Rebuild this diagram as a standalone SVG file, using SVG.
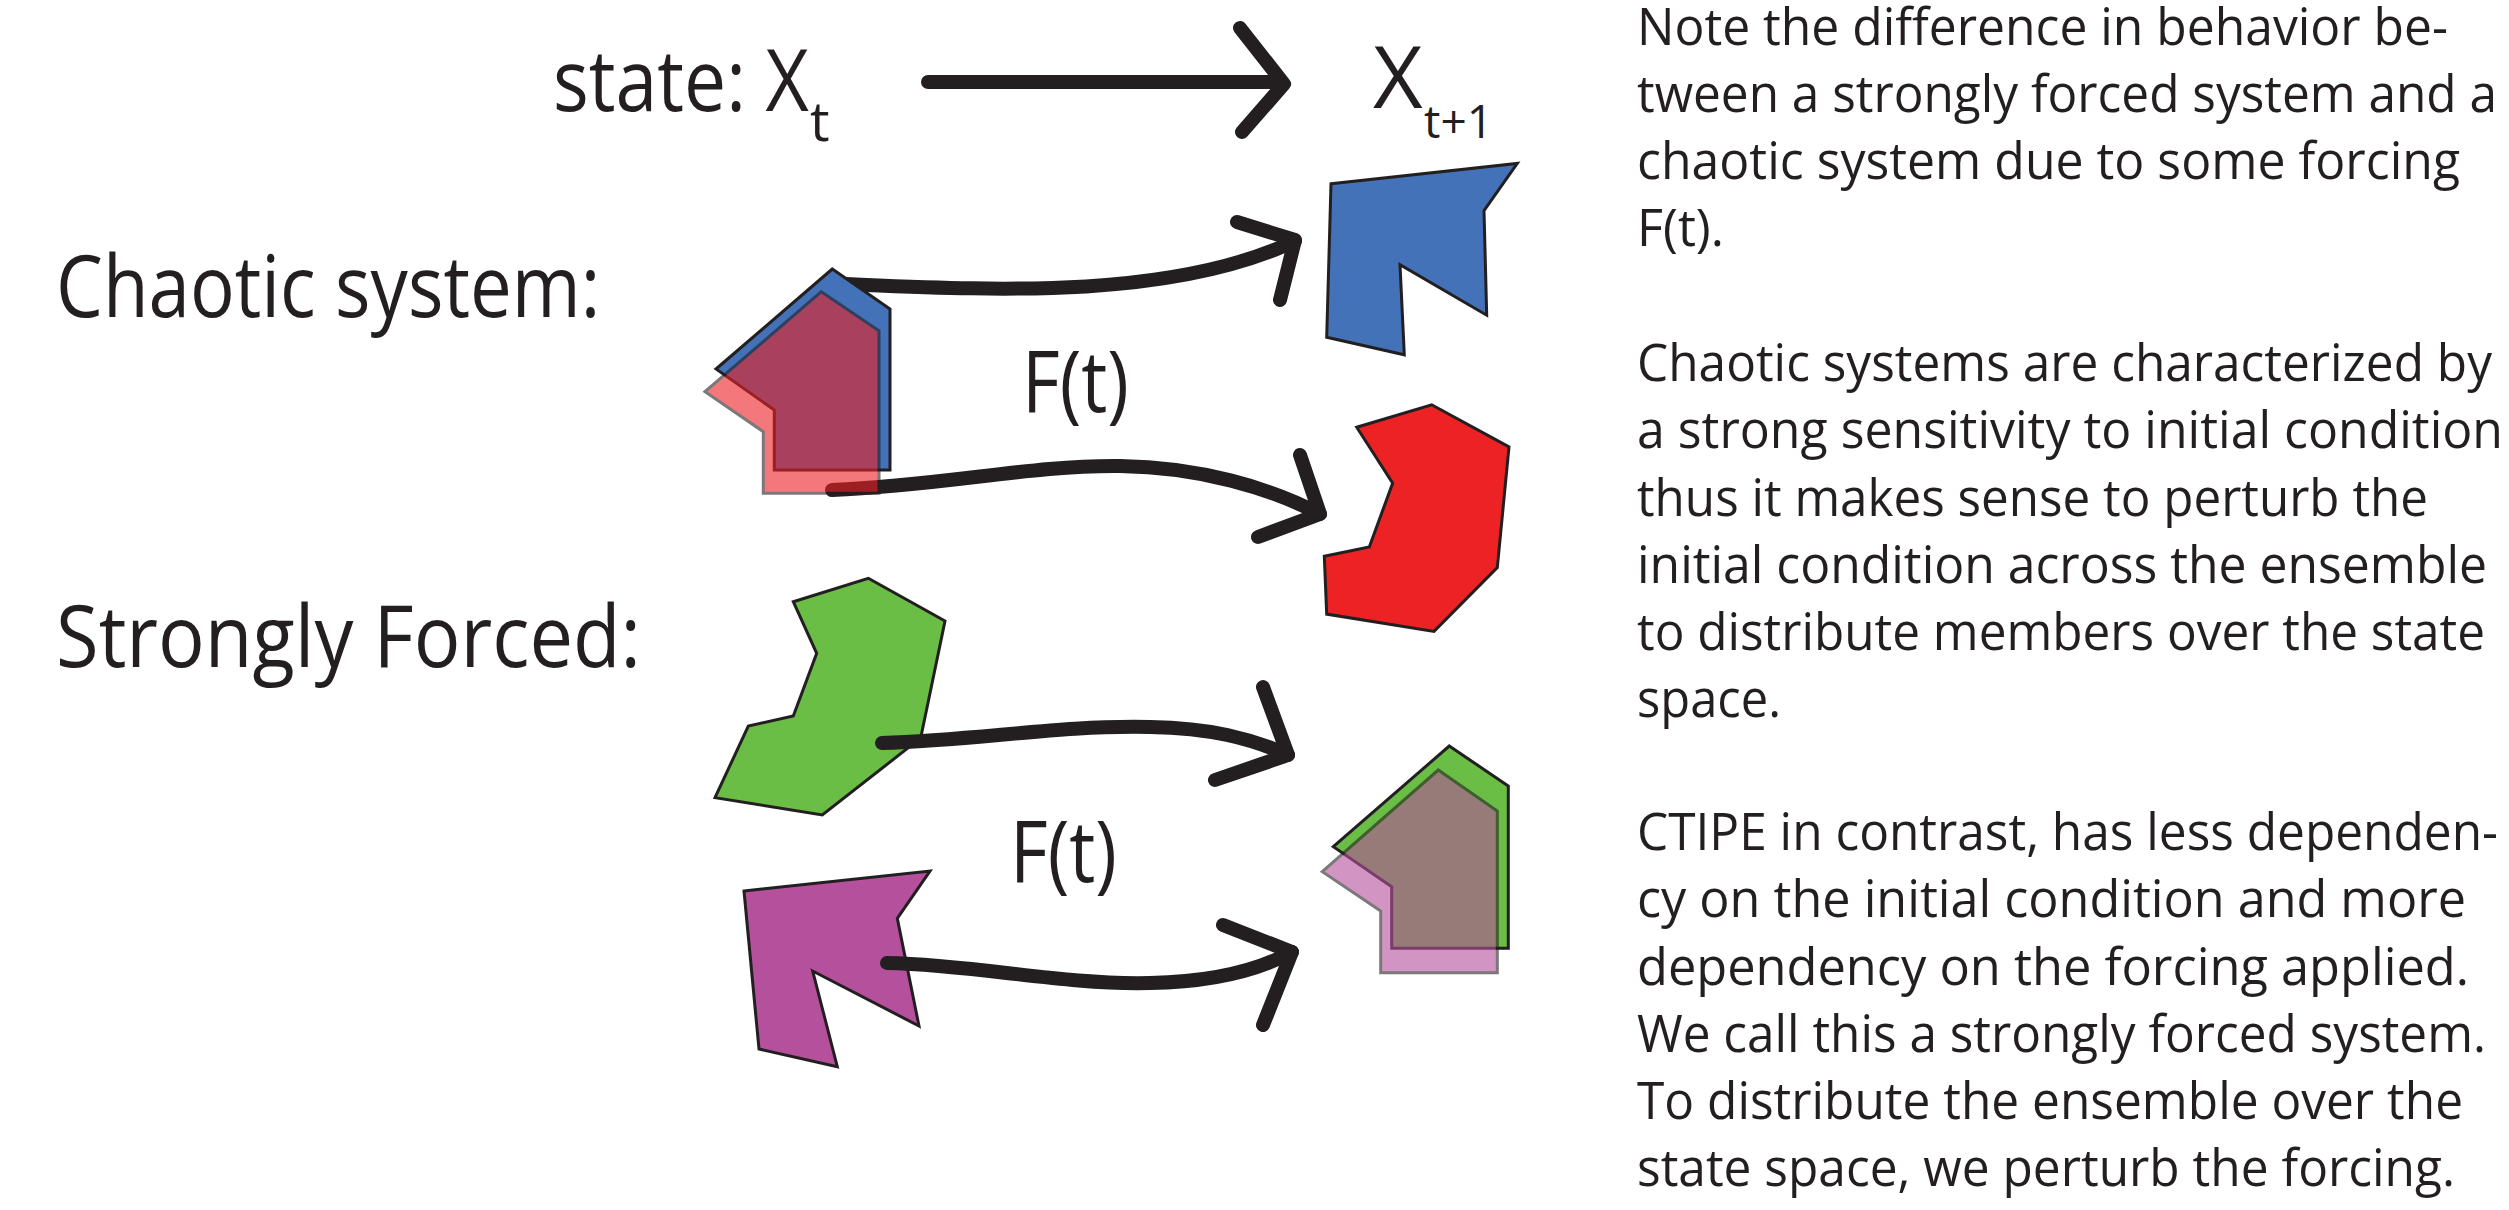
<svg xmlns="http://www.w3.org/2000/svg" width="2509" height="1210" viewBox="0 0 2509 1210">
<style>
text{font-family:"Open Sans","Liberation Sans",sans-serif;fill:#231F20}
.big{font-size:86px}
.body{font-size:47px}
.shape{stroke:#231F20;stroke-width:3;stroke-linejoin:miter}
.arr{fill:none;stroke:#231F20;stroke-width:14;stroke-linecap:round;stroke-linejoin:round}
</style>
<rect width="2509" height="1210" fill="#FFFFFF"/>
<g id="title">
<text class="big" transform="translate(553 111) scale(0.873 1)">state: X</text>
<text x="810" y="141" font-size="55">t</text>
<text class="big" x="1373" y="108">X</text>
<text x="1424" y="138" font-size="46">t+1</text>
</g>
<g id="label-chaotic"><text class="big" transform="translate(56 317) scale(0.866 1)">Chaotic system:</text></g>
<g id="label-forced"><text class="big" transform="translate(56 667) scale(0.904 1)">Strongly Forced:</text></g>
<g id="ft-upper"><text class="big" transform="translate(1022 412) scale(0.85 1)">F(t)</text></g>
<g id="ft-lower"><text class="big" transform="translate(1010 882) scale(0.85 1)">F(t)</text></g>
<g id="forced-green-initial">
<polygon class="shape" fill="#6ABD45" points="868.3,578.3 945,621 920.7,738 822.3,815 715,797.7 748.3,726 793.3,716 816.7,653.3 793.3,601.7"/>
</g>
<g id="forced-purple-initial">
<polygon class="shape" fill="#B5509C" points="744,891 930,871 897.3,918.3 919,1026 812.7,971 837.3,1066.7 759,1049"/>
</g>
<g id="connectors">
<path class="arr" d="M928 82 L1280 82"/>
<path class="arr" d="M1240 28 L1284 84 L1242 132"/>
<path class="arr" d="M845 284 C990 290 1170 300 1295 241"/>
<path class="arr" d="M1237 222 L1295 240 L1280 300"/>
<path class="arr" d="M832 490 C950 485 1030 465 1120 466 C1200 467 1270 488 1320 514"/>
<path class="arr" d="M1300 455 L1320 514 L1258 537"/>
<path class="arr" d="M882 743 C980 740 1060 725 1150 727 C1210 728 1250 738 1288 755"/>
<path class="arr" d="M1263 687 L1288 755 L1215 780"/>
<path class="arr" d="M887 963 C980 965 1060 985 1150 983 C1210 982 1255 972 1292 952"/>
<path class="arr" d="M1223 925 L1292 952 L1263 1025"/>
</g>
<g id="chaotic-initial">
<polygon class="shape" fill="#4472B8" points="832.3,269 890,309 890,470 774.3,470 774.3,410 716,369"/>
<polygon class="shape" fill="#ED2024" opacity="0.6" points="821.3,291.7 879,330.7 879,493.3 763.3,493.3 763.3,431.7 705,391.7"/>
</g>
<g id="chaotic-blue-final">
<polygon class="shape" fill="#4472B8" points="1331,183.8 1517.3,163.4 1484,210.7 1486.7,315.2 1400,264.8 1404.3,354.8 1326.7,337.2"/>
</g>
<g id="chaotic-red-final">
<polygon class="shape" fill="#ED2224" points="1356.7,427.2 1431.7,404.8 1509,446.9 1497.3,567.6 1434,631.4 1326.7,614.1 1324.3,556.2 1369.3,546.9 1392.7,483.1"/>
</g>
<g id="forced-final">
<polygon class="shape" fill="#6ABD45" points="1449.3,746 1508.3,786 1508.3,948.3 1391.7,948.3 1391.7,886.7 1333.3,846.7"/>
<polygon class="shape" fill="#B5509C" opacity="0.6" points="1438.3,770 1497.3,811 1497.3,972.7 1380.7,972.7 1380.7,911 1322.3,871.7"/>
</g>
<g id="description" transform="scale(1 1.1)">
<text class="body" x="1637" y="40.9" textLength="811" lengthAdjust="spacingAndGlyphs">Note the difference in behavior be-</text>
<text class="body" x="1637" y="101.8" textLength="860" lengthAdjust="spacingAndGlyphs">tween a strongly forced system and a</text>
<text class="body" x="1637" y="162.7" textLength="823" lengthAdjust="spacingAndGlyphs">chaotic system due to some forcing</text>
<text class="body" x="1637" y="223.6" textLength="87" lengthAdjust="spacingAndGlyphs">F(t).</text>
<text class="body" x="1637" y="346.4" textLength="855" lengthAdjust="spacingAndGlyphs">Chaotic systems are characterized by</text>
<text class="body" x="1637" y="407.3" textLength="866" lengthAdjust="spacingAndGlyphs">a strong sensitivity to initial condition</text>
<text class="body" x="1637" y="469.1" textLength="791" lengthAdjust="spacingAndGlyphs">thus it makes sense to perturb the</text>
<text class="body" x="1637" y="530" textLength="850" lengthAdjust="spacingAndGlyphs">initial condition across the ensemble</text>
<text class="body" x="1637" y="590.9" textLength="848" lengthAdjust="spacingAndGlyphs">to distribute members over the state</text>
<text class="body" x="1637" y="651.8" textLength="144" lengthAdjust="spacingAndGlyphs">space.</text>
<text class="body" x="1637" y="772.7" textLength="861" lengthAdjust="spacingAndGlyphs">CTIPE in contrast, has less dependen-</text>
<text class="body" x="1637" y="833.6" textLength="829" lengthAdjust="spacingAndGlyphs">cy on the initial condition and more</text>
<text class="body" x="1637" y="895.5" textLength="832" lengthAdjust="spacingAndGlyphs">dependency on the forcing applied.</text>
<text class="body" x="1637" y="956.4" textLength="849" lengthAdjust="spacingAndGlyphs">We call this a strongly forced system.</text>
<text class="body" x="1637" y="1017.3" textLength="826" lengthAdjust="spacingAndGlyphs">To distribute the ensemble over the</text>
<text class="body" x="1637" y="1078.2" textLength="818" lengthAdjust="spacingAndGlyphs">state space, we perturb the forcing.</text>
</g>
</svg>
